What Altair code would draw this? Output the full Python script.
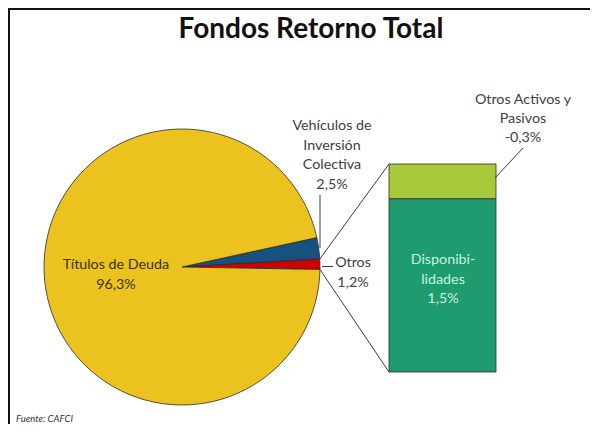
import math
import altair as alt
import pandas as pd

# ---- data ----
pie_labels = ["Vehículos de Inversión Colectiva", "Otros", "Títulos de Deuda"]
pie_values = [2.5, 1.2, 96.3]
pie_colors = ["#17527F", "#D00000", "#EBC21E"]

bar_labels = ["Disponibilidades", "Otros Activos y Pasivos"]
bar_values = [1.5, -0.3]
bar_colors = ["#1F9B70", "#A9C93A"]

title_text = "Fondos Retorno Total"
source_text = "Fuente: CAFCI"


def pct(v):
    return f"{v:.1f}%".replace(".", ",")


# ---- layout constants ----
W, H = 582, 416
CX, CY, R = 174, 259, 138
START_DEG = 77.7
BAR_X0, BAR_X1 = 381, 488
BAR_TOP, BAR_BOTTOM = 156, 364
FONT = "Lato"
LS = 14.3  # label font size

all_names = pie_labels + bar_labels
all_colors = pie_colors + bar_colors
color_scale = alt.Scale(domain=all_names, range=all_colors)

pie_df = pd.DataFrame({"name": pie_labels, "value": pie_values, "order": list(range(len(pie_labels)))})
start = math.radians(START_DEG)
pie = alt.Chart(pie_df).mark_arc(outerRadius=R, stroke="#2b2b2b", strokeWidth=0.8).encode(
    theta=alt.Theta("value:Q", stack=True,
                    scale=alt.Scale(domain=[0, sum(pie_values)], range=[start, start + 2 * math.pi])),
    color=alt.Color("name:N", scale=color_scale, legend=None),
    order=alt.Order("order:Q", sort="ascending"),
    x=alt.value(CX), y=alt.value(CY),
)

bar_df = pd.DataFrame({"name": bar_labels, "size": [abs(v) for v in bar_values],
                       "order": list(range(len(bar_labels)))})
bar_total = sum(abs(v) for v in bar_values)
bar = alt.Chart(bar_df).transform_stack(
    stack="size", groupby=[], as_=["y0", "y1"], sort=[alt.SortField("order", order="ascending")]
).mark_bar(stroke="#2b2b2b", strokeWidth=0.8).encode(
    x=alt.value(BAR_X0), x2=alt.value(BAR_X1),
    y=alt.Y("y1:Q", axis=None, scale=alt.Scale(domain=[0, bar_total], range=[BAR_BOTTOM, BAR_TOP])),
    y2="y0:Q",
    color=alt.Color("name:N", scale=color_scale, legend=None),
)

one = pd.DataFrame({"a": [0]})


def rule(x1, y1, x2, y2, color="#3a3a3a", width=1):
    return alt.Chart(one).mark_rule(color=color, strokeWidth=width).encode(
        x=alt.value(x1), y=alt.value(y1), x2=alt.value(x2), y2=alt.value(y2))


def label(lines, x, y, color="#404040", size=LS, align="center", line_height=19.5, **kw):
    # y is the centre of the first line
    return alt.Chart(one).mark_text(font=FONT, fontSize=size, color=color, align=align,
                                    baseline="middle", lineHeight=line_height, **kw).encode(
        x=alt.value(x), y=alt.value(y), text=alt.value(lines))


# connector lines from the "Otros" slice edges to the bar corners
a_top = math.radians(START_DEG + pie_values[0] / 100 * 360)
a_bot = math.radians(START_DEG + (pie_values[0] + pie_values[1]) / 100 * 360)
p_top = (CX + R * math.sin(a_top), CY - R * math.cos(a_top))
p_bot = (CX + R * math.sin(a_bot), CY - R * math.cos(a_bot))

layers = [
    pie,
    bar,
    rule(p_top[0], p_top[1], BAR_X0, BAR_TOP),
    rule(p_bot[0], p_bot[1], BAR_X0, BAR_BOTTOM),
    rule(312, 187, 312, 240),
    rule(314, 258.5, 325, 258.5),
    rule(515, 140, 487, 170),
    rule(0, 1, W, 1, color="#111111", width=2),
    rule(1, 0, 1, H, color="#111111", width=2),
    alt.Chart(one).mark_text(font=FONT, fontSize=28, fontWeight="bold", color="#111111",
                             align="center", baseline="alphabetic").encode(
        x=alt.value(303), y=alt.value(30), text=alt.value(title_text)),
    label(["Vehículos de", "Inversión", "Colectiva", pct(pie_values[0])], 324, 118),
    label([pie_labels[1], pct(pie_values[1])], 345, 255),
    label(["Títulos de Deuda", pct(pie_values[2])], 108, 257, color="#3a3310"),
    label(["Otros Activos y", "Pasivos", pct(bar_values[1])], 515, 92, line_height=19),
    label(["Disponibi-", "lidades", pct(bar_values[0])], 435, 252, color="#C8F2DE"),
    label(source_text, 8, 411, color="#333333", size=9.5, align="left", fontStyle="italic"),
]

chart = alt.layer(*layers).properties(
    width=W, height=H, padding=0, autosize=alt.AutoSizeParams(type="none"), background="white"
).configure_view(stroke=None)

chart.save("out.html", embed_options={"renderer": "svg", "actions": False})
